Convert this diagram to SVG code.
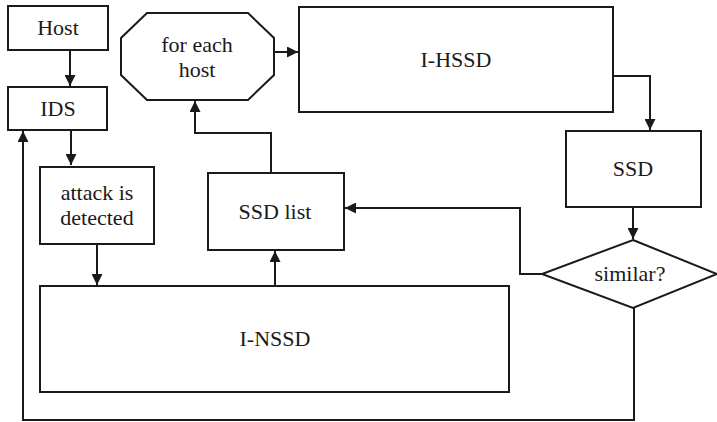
<svg xmlns="http://www.w3.org/2000/svg" width="717" height="422" viewBox="0 0 717 422">
<style>
.n{fill:#fff;stroke:#1a1a1a;stroke-width:2}
.c{fill:none;stroke:#1a1a1a;stroke-width:2}
.t{font-family:'Liberation Serif','Times New Roman',serif;font-size:22px;fill:#1a1a1a;text-anchor:middle}
</style>
<defs>
<marker id="a" viewBox="0 0 10 10" refX="10" refY="5" markerWidth="5.5" markerHeight="5.5" orient="auto" markerUnits="strokeWidth">
<path d="M0,0 L10,5 L0,10 z" fill="#1a1a1a"/>
</marker>
</defs>
<rect width="717" height="422" fill="#fff"/>
<g id="connectors">
<path class="c" d="M70,50 V86" marker-end="url(#a)"/>
<path class="c" d="M71,130 V165" marker-end="url(#a)"/>
<path class="c" d="M97,244 V285" marker-end="url(#a)"/>
<path class="c" d="M275,286 V251" marker-end="url(#a)"/>
<path class="c" d="M271,173 V133 H195 V101" marker-end="url(#a)"/>
<path class="c" d="M274,52 H298" marker-end="url(#a)"/>
<path class="c" d="M613,76 H650 V130" marker-end="url(#a)"/>
<path class="c" d="M633,207 V239" marker-end="url(#a)"/>
<path class="c" d="M542,274 H520 V208 H345" marker-end="url(#a)"/>
<path class="c" d="M634,308 V420 H23 V131" marker-end="url(#a)"/>
</g>
<g id="host"><rect class="n" x="8" y="6" width="100" height="44"/><text class="t" x="58" y="35">Host</text></g>
<g id="ids"><rect class="n" x="8" y="87" width="99" height="43"/><text class="t" x="58" y="116">IDS</text></g>
<g id="foreach"><polygon class="n" points="147,13 248,13 274,38 274,75 248,100 147,100 121,75 121,38"/><text class="t" x="197" y="52">for each</text><text class="t" x="197" y="77">host</text></g>
<g id="ihssd"><rect class="n" x="299" y="7" width="314" height="105"/><text class="t" x="456" y="67">I-HSSD</text></g>
<g id="ssd"><rect class="n" x="566" y="131" width="135" height="76"/><text class="t" x="633" y="176">SSD</text></g>
<g id="similar"><polygon class="n" points="633,240 717,274 633,308 542,274"/><text class="t" x="630" y="281">similar?</text></g>
<g id="attack"><rect class="n" x="40" y="167" width="114" height="77"/><text class="t" x="97" y="200">attack is</text><text class="t" x="97" y="225">detected</text></g>
<g id="ssdlist"><rect class="n" x="208" y="173" width="136" height="77"/><text class="t" x="275" y="219">SSD list</text></g>
<g id="inssd"><rect class="n" x="40" y="286" width="469" height="106"/><text class="t" x="275" y="346">I-NSSD</text></g>
</svg>
